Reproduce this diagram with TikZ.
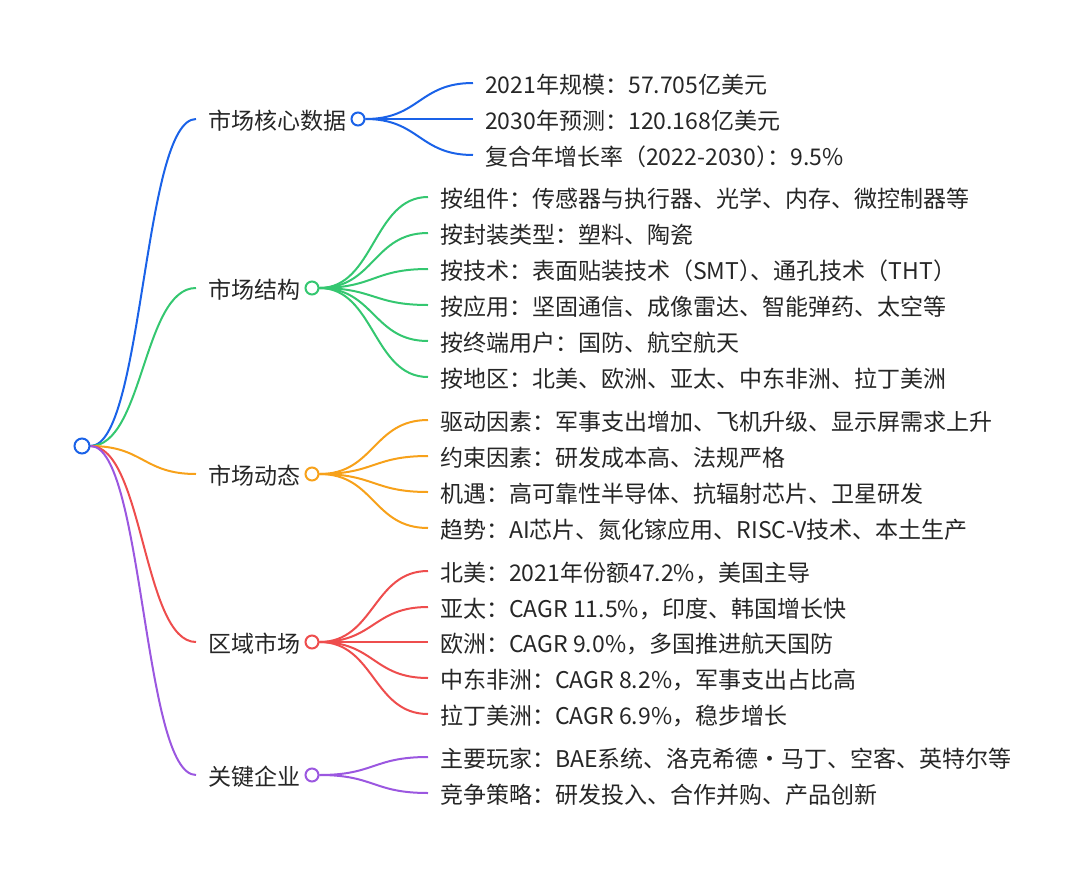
\documentclass[tikz,border=0pt]{standalone}
\usepackage{fontspec}
\setmainfont{Noto Sans CJK SC}
\definecolor{cblue}{HTML}{1A62E8}
\definecolor{cgreen}{HTML}{34C770}
\definecolor{corange}{HTML}{F7A11A}
\definecolor{cred}{HTML}{EE4D4D}
\definecolor{cpurple}{HTML}{9B57E0}
\definecolor{ctext}{HTML}{262626}
\pgfdeclarelayer{bg}
\pgfsetlayers{bg,main}
\newcommand{\sq}{\kern-0.5em}
\begin{document}
\begin{tikzpicture}[x=1pt,y=-1pt,
  link/.style={line width=2pt},
  knob/.style={circle, draw, line width=2pt, fill=white, inner sep=0pt, minimum size=13pt},
  mainlbl/.style={anchor=west, inner sep=0pt, text=ctext, font=\fontsize{23pt}{27pt}\selectfont, text height=22.2pt, text depth=0.8pt},
  leaf/.style={anchor=west, inner sep=0pt, text=ctext, font=\fontsize{23pt}{27pt}\selectfont, text height=22.2pt, text depth=0.8pt}]
\useasboundingbox (0,0) rectangle (1080,876);

% root
\node[knob, draw=cblue, minimum size=15pt] (root) at (82,446) {};

% main labels
\node[mainlbl] (m1) at (208,119) {市场核心数据};
\node[mainlbl] (m2) at (208,288) {市场结构};
\node[mainlbl] (m3) at (208,474) {市场动态};
\node[mainlbl] (m4) at (208,642) {区域市场};
\node[mainlbl] (m5) at (208,775) {关键企业};

% branch knobs
\node[knob, draw=cblue] (c1) at (358,119) {};
\node[knob, draw=cgreen] (c2) at (312,288) {};
\node[knob, draw=corange] (c3) at (312,474) {};
\node[knob, draw=cred] (c4) at (312,642) {};
\node[knob, draw=cpurple] (c5) at (312,775) {};

% leaves group 1
\node[leaf] (a1) at (485,83) {2021年规模：57.705亿美元};
\node[leaf] (a2) at (485,119) {2030年预测：120.168亿美元};
\node[leaf] (a3) at (485,155) {复合年增长率（2022-2030）\sq：9.5\%};
% group 2
\node[leaf] (b1) at (440,197) {按组件：传感器与执行器、光学、内存、微控制器等};
\node[leaf] (b2) at (440,233) {按封装类型：塑料、陶瓷};
\node[leaf] (b3) at (440,269) {按技术：表面贴装技术（SMT）\sq、通孔技术（THT）};
\node[leaf] (b4) at (440,305) {按应用：坚固通信、成像雷达、智能弹药、太空等};
\node[leaf] (b5) at (440,341) {按终端用户：国防、航空航天};
\node[leaf] (b6) at (440,377) {按地区：北美、欧洲、亚太、中东非洲、拉丁美洲};
% group 3
\node[leaf] (d1) at (440,420) {驱动因素：军事支出增加、飞机升级、显示屏需求上升};
\node[leaf] (d2) at (440,456) {约束因素：研发成本高、法规严格};
\node[leaf] (d3) at (440,492) {机遇：高可靠性半导体、抗辐射芯片、卫星研发};
\node[leaf] (d4) at (440,528) {趋势：AI芯片、氮化镓应用、RISC-V技术、本土生产};
% group 4
\node[leaf] (r1) at (440,571) {北美：2021年份额47.2\%，美国主导};
\node[leaf] (r2) at (440,607) {亚太：CAGR 11.5\%，印度、韩国增长快};
\node[leaf] (r3) at (440,642) {欧洲：CAGR 9.0\%，多国推进航天国防};
\node[leaf] (r4) at (440,678) {中东非洲：CAGR 8.2\%，军事支出占比高};
\node[leaf] (r5) at (440,714) {拉丁美洲：CAGR 6.9\%，稳步增长};
% group 5
\node[leaf] (k1) at (440,757) {主要玩家：BAE系统、洛克希德\makebox[1em]{·}马丁、空客、英特尔等};
\node[leaf] (k2) at (440,793) {竞争策略：研发投入、合作并购、产品创新};

\begin{pgfonlayer}{bg}
% root links
\draw[link,cblue] (root.east) .. controls +(53,0) and +(-53,0) .. ([xshift=-12pt]m1.west);
\draw[link,cgreen] (root.east) .. controls +(53,0) and +(-53,0) .. ([xshift=-12pt]m2.west);
\draw[link,corange] (root.east) .. controls +(53,0) and +(-53,0) .. ([xshift=-12pt]m3.west);
\draw[link,cred] (root.east) .. controls +(53,0) and +(-53,0) .. ([xshift=-12pt]m4.west);
\draw[link,cpurple] (root.east) .. controls +(53,0) and +(-53,0) .. ([xshift=-12pt]m5.west);
% group links
\foreach \t in {a1,a2,a3}
  \draw[link,cblue] (c1.east) .. controls +(54,0) and +(-54,0) .. ([xshift=-12pt]\t.west);
\foreach \t in {b1,b2,b3,b4,b5,b6}
  \draw[link,cgreen] (c2.east) .. controls +(55,0) and +(-55,0) .. ([xshift=-12pt]\t.west);
\foreach \t in {d1,d2,d3,d4}
  \draw[link,corange] (c3.east) .. controls +(55,0) and +(-55,0) .. ([xshift=-12pt]\t.west);
\foreach \t in {r1,r2,r3,r4,r5}
  \draw[link,cred] (c4.east) .. controls +(55,0) and +(-55,0) .. ([xshift=-12pt]\t.west);
\foreach \t in {k1,k2}
  \draw[link,cpurple] (c5.east) .. controls +(55,0) and +(-55,0) .. ([xshift=-12pt]\t.west);
\end{pgfonlayer}
\end{tikzpicture}
\end{document}
